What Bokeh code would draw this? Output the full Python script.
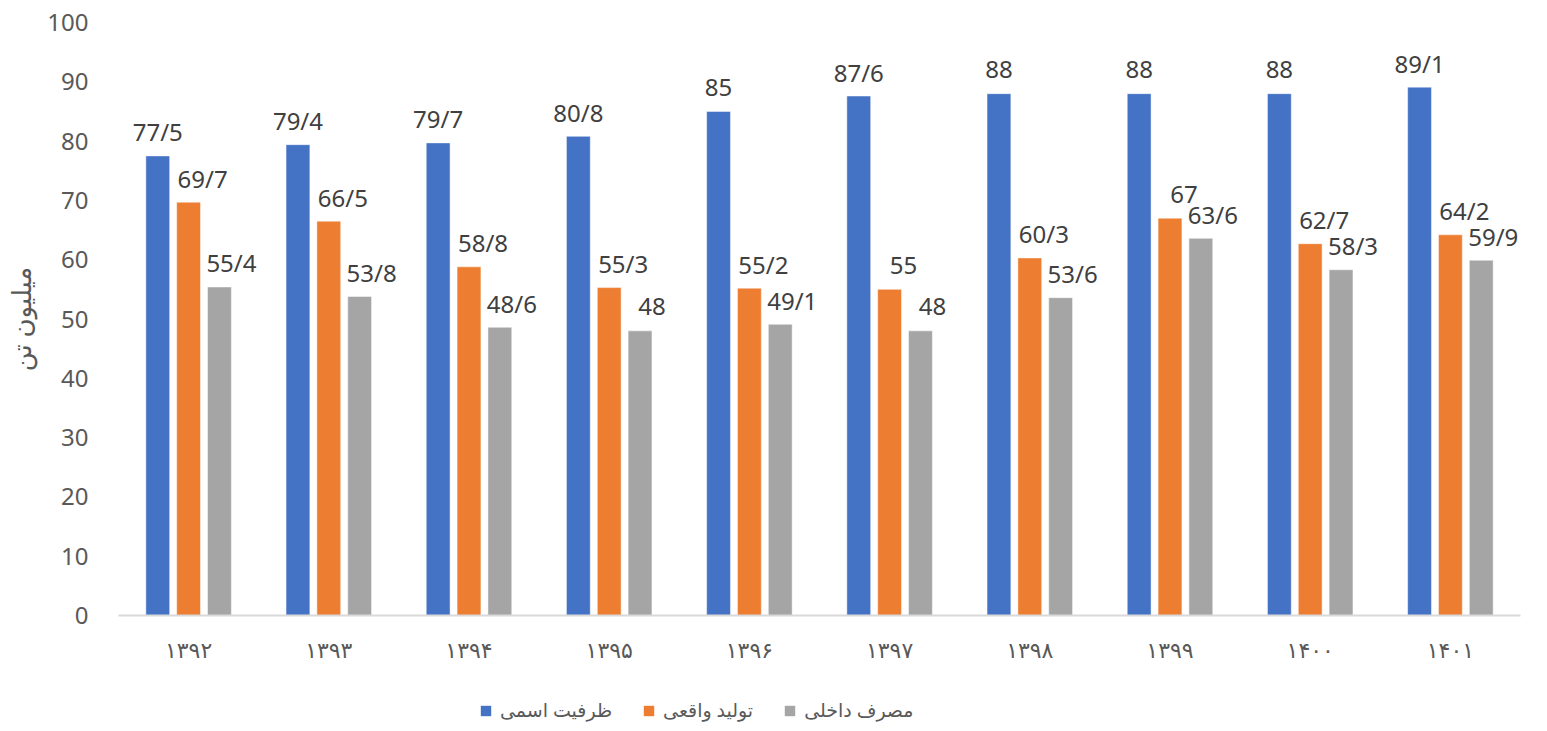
from bokeh.plotting import figure
from bokeh.layouts import column
from bokeh.models import ColumnDataSource, FactorRange, FixedTicker, Legend, LegendItem
from bokeh.transform import dodge
from bokeh.core.properties import value
from bokeh.embed import file_html
from bokeh.resources import INLINE

years = ["۱۳۹۲", "۱۳۹۳", "۱۳۹۴", "۱۳۹۵", "۱۳۹۶", "۱۳۹۷", "۱۳۹۸", "۱۳۹۹", "۱۴۰۰", "۱۴۰۱"]
capacity = [77.5, 79.4, 79.7, 80.8, 85, 87.6, 88, 88, 88, 89.1]
production = [69.7, 66.5, 58.8, 55.3, 55.2, 55, 60.3, 67, 62.7, 64.2]
consumption = [55.4, 53.8, 48.6, 48, 49.1, 48, 53.6, 63.6, 58.3, 59.9]
series_names = ["ظرفیت اسمی", "تولید واقعی", "مصرف داخلی"]
y_ticks = [0, 10, 20, 30, 40, 50, 60, 70, 80, 90, 100]


def fmt(v):
    return f"{v:g}".replace(".", "/")


src = ColumnDataSource(dict(
    year=years,
    cap=capacity, prod=production, cons=consumption,
    cap_l=[fmt(v) for v in capacity],
    prod_l=[fmt(v) for v in production],
    cons_l=[fmt(v) for v in consumption],
))

FONT = "Noto Sans, DejaVu Sans, sans-serif"

p = figure(x_range=FactorRange(*years, range_padding=0), y_range=(0, 100),
           width=1530, height=687, output_backend="svg", toolbar_location=None,
           min_border_left=110, min_border_right=10, min_border_top=22, min_border_bottom=72)
p.outline_line_color = None
p.xgrid.grid_line_color = None
p.ygrid.grid_line_color = None

colors = ["#4472C4", "#ED7D31", "#A5A5A5"]
cols = ["cap", "prod", "cons"]
offs = [-0.22, 0.0, 0.22]
label_dx = [0, 14, 12]
for c, col, off, dx in zip(cols, colors, offs, label_dx):
    p.vbar(x=dodge("year", off, range=p.x_range), top=c, width=0.17, source=src,
           fill_color=col, line_color="white", line_width=0.8, line_alpha=0.6)
    p.text(x=dodge("year", off, range=p.x_range), y=c, text=c + "_l", source=src,
           x_offset=dx, y_offset=-24, text_align="center", text_baseline="alphabetic",
           text_font=value(FONT), text_font_size="24px", text_color="#404040")

p.yaxis.ticker = FixedTicker(ticks=y_ticks)
p.yaxis.axis_line_color = None
p.yaxis.major_tick_line_color = None
p.yaxis.minor_tick_line_color = None
p.yaxis.major_label_standoff = 24
p.yaxis.major_label_text_font = FONT
p.yaxis.major_label_text_font_size = "24px"
p.yaxis.major_label_text_color = "#595959"
p.yaxis.axis_label = "میلیون تن"
p.yaxis.axis_label_text_font = FONT
p.yaxis.axis_label_text_font_size = "26px"
p.yaxis.axis_label_text_font_style = "normal"
p.yaxis.axis_label_text_color = "#595959"
p.yaxis.axis_label_standoff = 5

p.xaxis.axis_line_color = "#D9D9D9"
p.xaxis.axis_line_width = 2
p.xaxis.major_tick_line_color = None
p.xaxis.minor_tick_line_color = None
p.xaxis.major_label_standoff = 12
p.xaxis.major_label_text_font = FONT
p.xaxis.major_label_text_font_size = "22px"
p.xaxis.major_label_text_color = "#595959"

# legend strip below the chart
lg = figure(width=1530, height=36, x_range=(0, 1), y_range=(0, 1),
            x_axis_location=None, y_axis_location=None,
            output_backend="svg", toolbar_location=None,
            min_border_left=0, min_border_right=0, min_border_top=0, min_border_bottom=0)
lg.grid.grid_line_color = None
lg.outline_line_color = None
hidden = ColumnDataSource(dict(x=[5], top=[0]))
lrs = [lg.vbar(x="x", top="top", width=0.1, source=hidden, fill_color=col, line_color=None)
       for col in colors]
legend = Legend(items=[LegendItem(label=n, renderers=[r]) for n, r in zip(series_names, lrs)],
                orientation="horizontal", location=(361, 0),
                label_text_font=FONT, label_text_font_size="19px", label_text_color="#595959",
                glyph_width=13, glyph_height=13, spacing=30, label_standoff=8,
                border_line_color=None, background_fill_alpha=0, margin=0, padding=2)
lg.add_layout(legend, "center")

layout = column(p, lg, spacing=0)
open("out.html", "w").write(file_html(layout, INLINE))
